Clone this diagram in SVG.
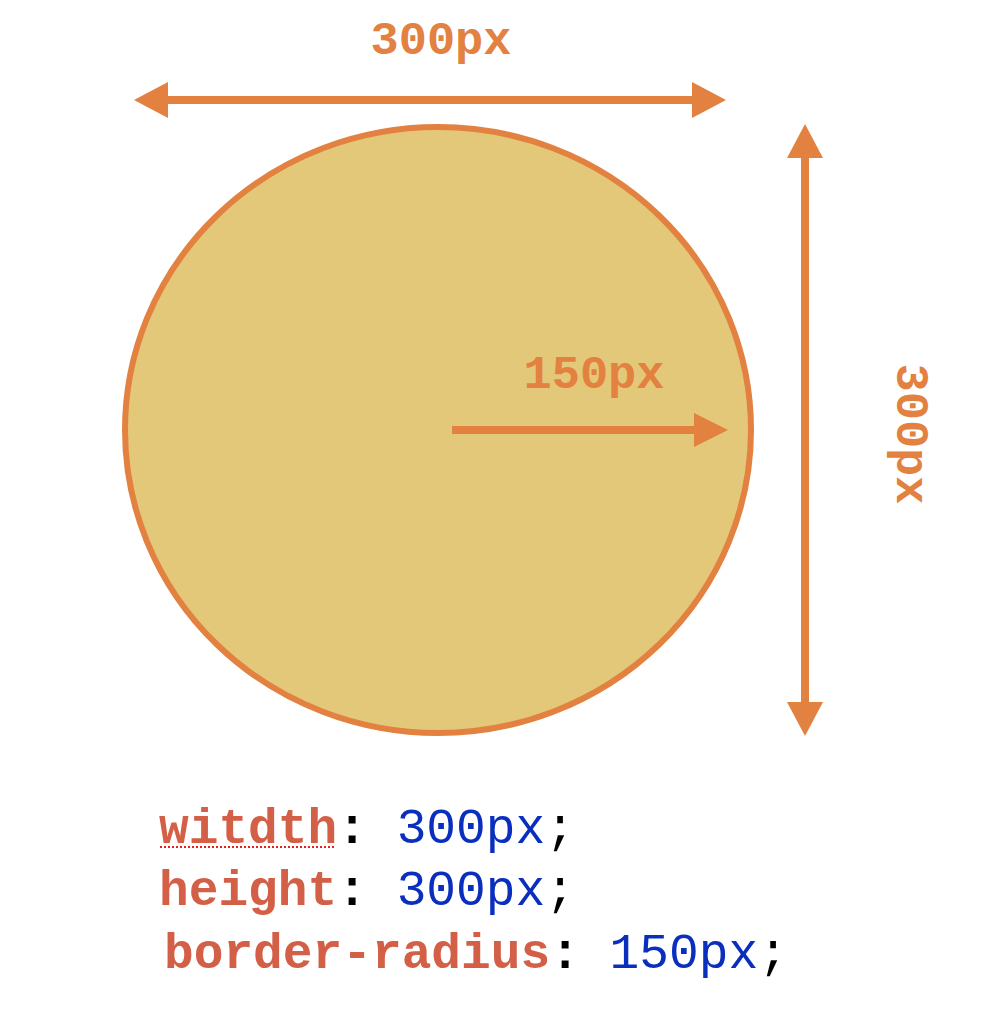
<svg xmlns="http://www.w3.org/2000/svg" width="1004" height="1020" viewBox="0 0 1004 1020">
<style>
.lbl{font-family:"Liberation Mono","Courier New",monospace;font-weight:bold;font-size:47px;fill:#e38140}
.code{font-family:"Liberation Mono","Courier New",monospace;font-size:49.5px}
.prop{font-weight:bold;fill:#d35f47}
.colon{font-weight:bold;fill:#000}
.val{fill:#0a2fbf}
.semi{fill:#000}
.ln{stroke:#e38140;stroke-width:8;fill:none}
.hd{fill:#e38140}
</style>
<rect width="1004" height="1020" fill="#fff"/>
<g id="circle">
<ellipse cx="438" cy="430" rx="313" ry="303" fill="#e3c87a" stroke="#e38140" stroke-width="6"/>
</g>
<g id="connectors">
<line class="ln" x1="165" y1="100" x2="695" y2="100"/>
<polygon class="hd" points="134,100 168,82 168,118"/>
<polygon class="hd" points="726,100 692,82 692,118"/>
<line class="ln" x1="805" y1="155" x2="805" y2="705"/>
<polygon class="hd" points="805,124 787,158 823,158"/>
<polygon class="hd" points="805,736 787,702 823,702"/>
<line class="ln" x1="452" y1="430" x2="697" y2="430"/>
<polygon class="hd" points="728,430 694,413 694,447"/>
</g>
<g id="label-width"><text class="lbl" x="441" y="54" text-anchor="middle">300px</text></g>
<g id="label-radius"><text class="lbl" x="594" y="388" text-anchor="middle">150px</text></g>
<g id="label-height"><text class="lbl" transform="translate(897,434) rotate(90)" text-anchor="middle">300px</text></g>
<g id="code">
<text class="code" x="159" y="843"><tspan class="prop">witdth</tspan><tspan class="colon">:</tspan><tspan class="val"> 300px</tspan><tspan class="semi">;</tspan></text>
<line x1="160" y1="847" x2="336" y2="847" stroke="#e8201c" stroke-width="2" stroke-dasharray="2,2"/>
<text class="code" x="159" y="905"><tspan class="prop">height</tspan><tspan class="colon">:</tspan><tspan class="val"> 300px</tspan><tspan class="semi">;</tspan></text>
<text class="code" x="164" y="968"><tspan class="prop">border-radius</tspan><tspan class="colon">:</tspan><tspan class="val"> 150px</tspan><tspan class="semi">;</tspan></text>
</g>
</svg>
